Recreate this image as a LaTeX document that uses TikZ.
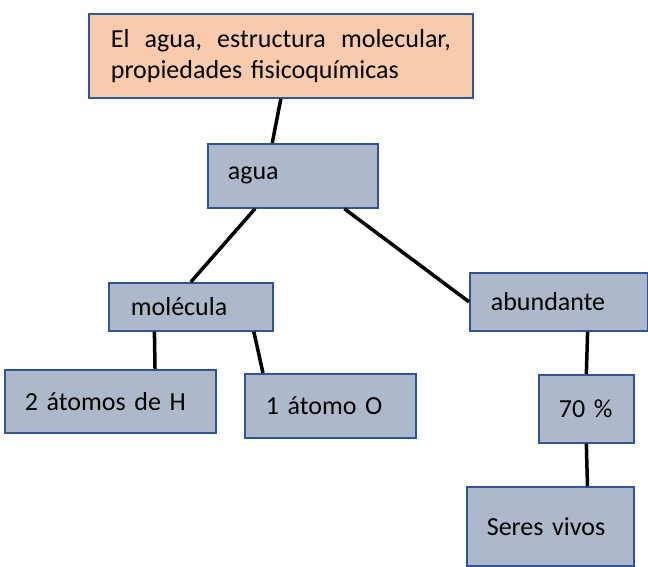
\documentclass[tikz,border=0pt]{standalone}
\usepackage{fontspec}
\setmainfont{Carlito}
\usetikzlibrary{calc}
\definecolor{boxblue}{HTML}{ADB9CA}
\definecolor{peach}{HTML}{F8CBAD}
\definecolor{edgeblue}{HTML}{2F5597}
\tikzset{
  cbox/.style={draw=edgeblue, line width=1.7pt, fill=boxblue, anchor=north west,
    align=left, font=\fontsize{26}{31}\selectfont, inner ysep=0pt},
  link/.style={line width=3.5pt, black}
}
\begin{document}
\begin{tikzpicture}[x=1pt,y=-1pt]
\useasboundingbox (0,0) rectangle (648,567);
\node[cbox, fill=peach, minimum width=384, minimum height=84, inner xsep=22, text width=340] (top) at (88,13)
  {\hbox to 340pt{El\hfill agua,\hfill estructura\hfill molecular,}\\propiedades fisicoquímicas};
\node[cbox, minimum width=170, minimum height=64, inner xsep=20, text width=130] (agua) at (207,143) {agua};
\node[cbox, minimum width=164, minimum height=48, inner xsep=22, text width=120] (mol) at (108,282) {molécula};
\node[cbox, minimum width=178, minimum height=58, inner xsep=21, text width=136] (abun) at (469,272) {abundante};
\node[cbox, minimum width=211, minimum height=63, inner xsep=20, text width=171] (hh) at (4,369) {2 átomos de H};
\node[cbox, minimum width=171, minimum height=64, inner xsep=21, text width=129] (oo) at (244,373) {1 átomo O};
\node[cbox, minimum width=95, minimum height=68, inner xsep=20, text width=55] (pct) at (538,374) {70 \%};
\node[cbox, minimum width=167, minimum height=79, inner xsep=20, text width=127] (seres) at (466,486) {Seres vivos};
\draw[link] (top.south) -- ($(agua.north west)!0.38!(agua.north east)$);
\draw[link] ($(agua.south west)!0.28!(agua.south east)$) -- (mol.north);
\draw[link] ($(agua.south west)!0.8!(agua.south east)$) -- (abun.west);
\draw[link] ($(mol.south west)!0.28!(mol.south east)$) -- ($(hh.north west)!0.71!(hh.north east)$);
\draw[link] ($(mol.south west)!0.88!(mol.south east)$) -- ($(oo.north west)!0.11!(oo.north east)$);
\draw[link] ($(abun.south west)!0.66!(abun.south east)$) -- (pct.north);
\draw[link] (pct.south) -- ($(seres.north west)!0.72!(seres.north east)$);
\end{tikzpicture}
\end{document}
